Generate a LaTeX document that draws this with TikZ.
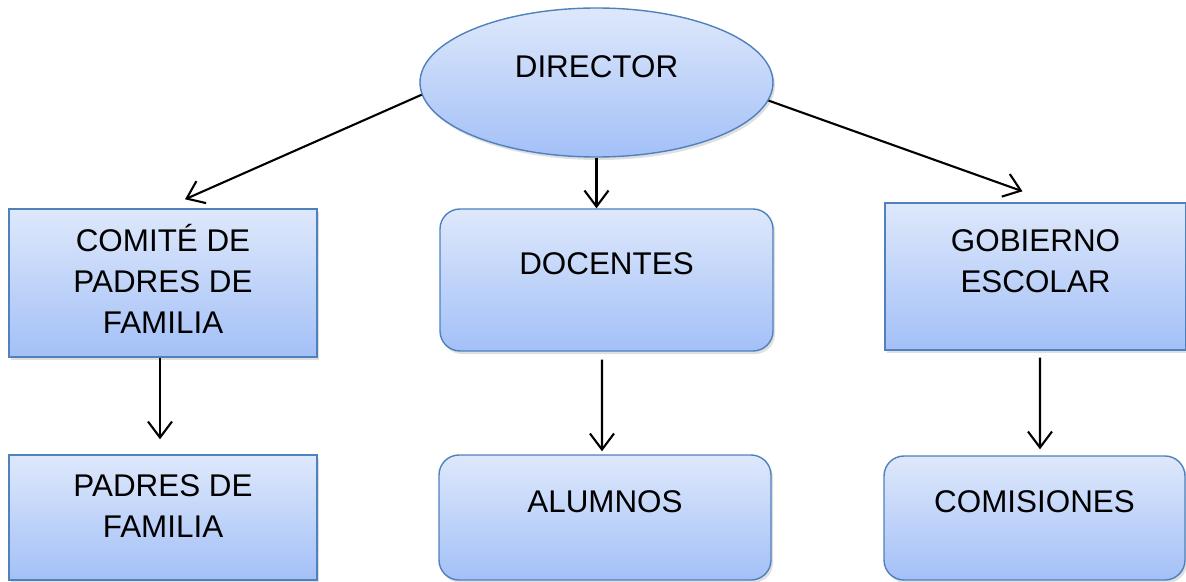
\documentclass[tikz,border=0pt]{standalone}
\usepackage{fontspec}
\setmainfont{Liberation Sans}
\usepackage{tikz}
\usepackage{xcolor}
\usetikzlibrary{shapes.geometric}
\usetikzlibrary{shadows}
\usetikzlibrary{arrows.meta}
\definecolor{fillTopColor}{HTML}{DEE8FB}
\definecolor{fillBotColor}{HTML}{A3C0F7}
\definecolor{borderColor}{HTML}{4F81BD}
\definecolor{linkColor}{HTML}{000000}
\tikzset{
  orgshape/.style={draw=borderColor, line width=1.4bp, top color=fillTopColor,
    bottom color=fillBotColor, inner sep=0pt,
    drop shadow={opacity=0.25, shadow xshift=2bp, shadow yshift=-3bp}},
  sqbox/.style={orgshape, rectangle},
  rdbox/.style={orgshape, rectangle, rounded corners=20bp},
  ovalbox/.style={orgshape, ellipse},
  lbl/.style={font=\fontsize{31.5}{41.5}\selectfont, align=center, inner sep=0pt},
  link/.style={color=linkColor, line width=2.1bp,
    -{Straight Barb[length=16bp, width=24bp, line width=2.1bp]}}
}

\begin{document}
\begin{tikzpicture}[x=1bp,y=-1bp]

% page frame
\useasboundingbox (0, 0) rectangle (1186, 582);

% shapes
\begin{scope}
\node[ovalbox, minimum width=353bp, minimum height=149bp,
label={[lbl, yshift=16bp]center:DIRECTOR}] (dir) at (596.5, 82.5) {};
\node[sqbox, minimum width=308bp, minimum height=148bp,
label={[lbl, yshift=4bp]center:COMITÉ DE\\PADRES DE\\FAMILIA}] (comite) at (163, 283) {};
\node[rdbox, minimum width=333bp, minimum height=142bp,
label={[lbl, yshift=16.5bp]center:DOCENTES}] (docentes) at (606.5, 280) {};
\node[sqbox, minimum width=301bp, minimum height=147bp,
label={[lbl, yshift=15bp]center:GOBIERNO\\ESCOLAR}] (gobierno) at (1035.5, 276.5) {};
\node[sqbox, minimum width=308bp, minimum height=125bp,
label={[lbl, yshift=11.5bp]center:PADRES DE\\FAMILIA}] (padres) at (163, 517.5) {};
\node[rdbox, minimum width=332bp, minimum height=125bp,
label={[lbl, yshift=16bp]center:ALUMNOS}] (alumnos) at (605, 517.5) {};
\node[rdbox, minimum width=301bp, minimum height=124bp,
label={[lbl, yshift=16.5bp]center:COMISIONES}] (comisiones) at (1034.5, 518) {};
\end{scope}

% links
\begin{scope}
\draw[link] (dir.184.6) -- ([xshift=22bp, yshift=9bp]comite.north);
\draw[link] (dir.south) -- (dir.south |- docentes.north);
\draw[link] (dir.354.3) -- ([xshift=-13bp, yshift=11bp]gobierno.north);
\draw[link] ([xshift=-3bp]comite.south) -- ([xshift=-3bp, yshift=15bp]padres.north);
\draw[link] ([xshift=-4.5bp, yshift=-8bp]docentes.south) -- ([xshift=-3bp, yshift=3bp]alumnos.north);
\draw[link] ([xshift=4.5bp, yshift=-7bp]gobierno.south) -- ([xshift=5.5bp, yshift=6bp]comisiones.north);
\end{scope}

\end{tikzpicture}
\end{document}
